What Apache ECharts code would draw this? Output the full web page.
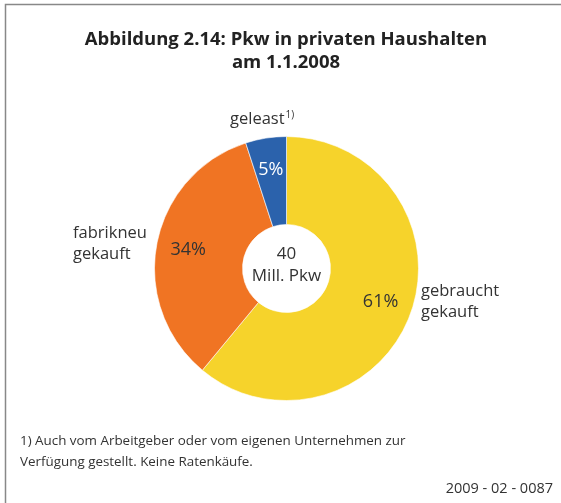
<!DOCTYPE html>
<html>
<head>
<meta charset="utf-8">
<script src="https://cdn.jsdelivr.net/npm/echarts@6/dist/echarts.min.js"></script>
<style>
  html, body { margin: 0; padding: 0; background: #fff; }
  #chart { width: 561px; height: 503px; }
</style>
</head>
<body>
<div id="chart"></div>
<script>
// Daten: Pkw in privaten Haushalten am 1.1.2008 (Anteile in %)
var categories = ["gebraucht\ngekauft", "fabrikneu\ngekauft", "geleast"];
var shares = [61, 34, 5];
var colors = ["#F6D32B", "#F07423", "#2B62AC"];
var totalLabel = ["40", "Mill. Pkw"];

var FONT = "'Open Sans', 'Noto Sans', sans-serif";
var TEXT = "#333";
var CENTER = [286.5, 268.5];

var chart = echarts.init(document.getElementById("chart"));

var pieData = categories.map(function (name, i) {
  return { name: name, value: shares[i], itemStyle: { color: colors[i] } };
});

// zweite, unsichtbare Serie nur fuer die Prozentwerte (weiter aussen platziert)
var labelData = categories.map(function (name, i) {
  return {
    name: name,
    value: shares[i],
    itemStyle: { color: "rgba(0,0,0,0)" },
    label: { color: i === 2 ? "#fff" : TEXT }
  };
});

chart.setOption({
  animation: false,
  series: [
    {
      type: "pie",
      center: CENTER,
      radius: [44, 132],
      startAngle: 90,
      clockwise: true,
      silent: true,
      itemStyle: { borderColor: "#fff", borderWidth: 0.6 },
      label: { show: false },
      labelLine: { show: false },
      data: pieData
    },
    {
      type: "pie",
      center: CENTER,
      radius: [62, 132],
      startAngle: 90,
      clockwise: true,
      silent: true,
      label: {
        position: "inside",
        formatter: "{c}%",
        fontFamily: FONT,
        fontSize: 18
      },
      labelLine: { show: false },
      data: labelData
    }
  ],
  graphic: [
    // Rahmen
    {
      type: "rect",
      shape: { x: 5.5, y: 4.5, width: 600, height: 600 },
      style: { fill: null, stroke: "#888", lineWidth: 1.5 }
    },
    {
      type: "text",
      x: 286, y: 28,
      style: {
        text: "Abbildung 2.14: Pkw in privaten Haushalten\nam 1.1.2008",
        font: "bold 18.5px " + FONT,
        fill: "#222",
        align: "center",
        lineHeight: 23
      }
    },
    {
      type: "text",
      left: 73, top: 223,
      style: { text: categories[1], font: "16.5px " + FONT, fill: TEXT, lineHeight: 21 }
    },
    {
      type: "text",
      left: 421, top: 281,
      style: { text: categories[0], font: "16.5px " + FONT, fill: TEXT, lineHeight: 21 }
    },
    {
      type: "text",
      left: 230, top: 110,
      style: {
        text: "{a|" + categories[2] + "}{s|1)}",
        fill: TEXT,
        rich: {
          a: { fontFamily: FONT, fontSize: 16.5, color: TEXT },
          s: { fontFamily: FONT, fontSize: 10, color: TEXT, verticalAlign: "top", padding: [0, 0, 8, 1] }
        }
      }
    },
    {
      type: "text",
      x: 286.5, y: 265,
      style: {
        text: totalLabel.join("\n"),
        font: "17px " + FONT,
        fill: TEXT,
        align: "center",
        verticalAlign: "middle",
        lineHeight: 22
      }
    },
    {
      type: "text",
      left: 20, top: 430,
      style: {
        text: "1) Auch vom Arbeitgeber oder vom eigenen Unternehmen zur\nVerfügung gestellt. Keine Ratenkäufe.",
        font: "13.4px " + FONT,
        fill: TEXT,
        lineHeight: 21.5
      }
    },
    {
      type: "text",
      right: 8, top: 481,
      style: { text: "2009 - 02 - 0087", font: "14.5px " + FONT, fill: TEXT }
    }
  ]
});
</script>
</body>
</html>
